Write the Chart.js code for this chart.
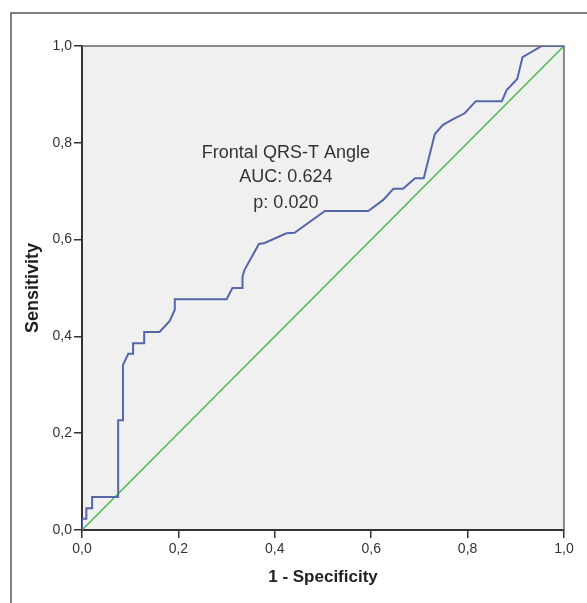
<!DOCTYPE html>
<html>
<head>
<meta charset="utf-8">
<script src="https://cdn.jsdelivr.net/npm/chart.js@4.4.1/dist/chart.umd.min.js"></script>
<style>
    html, body { margin: 0; padding: 0; background: #fff; }
    #rocChart { display: block; }
</style>
</head>
<body>
<canvas id="rocChart" width="587" height="603"></canvas>
<script>
// Curva ROC (1 - especificidad, sensibilidad)
const unoMenosEspecificidad = [0, 0, 0.009, 0.009, 0.021, 0.021, 0.075, 0.075, 0.085, 0.085, 0.096, 0.106, 0.106, 0.129, 0.129, 0.161, 0.182, 0.1925, 0.1925, 0.300, 0.312, 0.333, 0.333, 0.337, 0.367, 0.379, 0.424, 0.441, 0.504, 0.594, 0.625, 0.646, 0.666, 0.691, 0.709, 0.732, 0.749, 0.770, 0.794, 0.817, 0.871, 0.881, 0.903, 0.914, 0.954, 1.0];
const sensibilidad = [0, 0.023, 0.023, 0.045, 0.045, 0.068, 0.068, 0.227, 0.227, 0.341, 0.364, 0.364, 0.386, 0.386, 0.409, 0.409, 0.432, 0.455, 0.477, 0.477, 0.500, 0.500, 0.523, 0.537, 0.591, 0.593, 0.613, 0.614, 0.659, 0.659, 0.682, 0.705, 0.705, 0.727, 0.727, 0.818, 0.837, 0.849, 0.861, 0.886, 0.886, 0.909, 0.932, 0.977, 1.0, 1.0];

// Línea de referencia
const referenciaX = [0, 1];
const referenciaY = [0, 1];

// Marcas de los ejes
const marcasEje = [0, 0.2, 0.4, 0.6, 0.8, 1.0];

// Texto dentro del gráfico
const textoAnotacion = ['Frontal QRS-T Angle', 'AUC: 0.624', 'p: 0.020'];
const anotacionX = 0.423;
const anotacionY = [0.768, 0.718, 0.665];

function formatoComa(v) {
    return v.toFixed(1).replace('.', ',');
}

function aPuntos(xs, ys) {
    return xs.map((x, i) => ({ x: x, y: ys[i] }));
}

const fuente = 'Liberation Sans, Arial, sans-serif';

const fondoYMarco = {
    id: 'fondoYMarco',
    beforeDraw(chart) {
        const { ctx, chartArea: a } = chart;
        ctx.save();
        ctx.fillStyle = '#ffffff';
        ctx.fillRect(0, 0, chart.width, chart.height);
        // marco exterior (solo izquierda y arriba visibles)
        ctx.strokeStyle = '#555';
        ctx.lineWidth = 1.5;
        ctx.beginPath();
        ctx.moveTo(11, 603);
        ctx.lineTo(11, 13);
        ctx.lineTo(587, 13);
        ctx.stroke();
        // fondo del área de trazado
        ctx.fillStyle = '#f0f0f0';
        ctx.fillRect(a.left, a.top, a.right - a.left, a.bottom - a.top);
        ctx.restore();
    },
    beforeDatasetsDraw(chart) {
        const { ctx, chartArea: a } = chart;
        ctx.save();
        ctx.strokeStyle = '#666';
        ctx.lineWidth = 1.5;
        ctx.beginPath();
        ctx.moveTo(a.left, a.top);
        ctx.lineTo(a.right, a.top);
        ctx.lineTo(a.right, a.bottom);
        ctx.stroke();
        ctx.restore();
    },
    afterDatasetsDraw(chart) {
        const { ctx, scales } = chart;
        ctx.save();
        ctx.fillStyle = '#333';
        ctx.font = '18px ' + fuente;
        ctx.textAlign = 'center';
        ctx.textBaseline = 'alphabetic';
        const px = scales.x.getPixelForValue(anotacionX);
        textoAnotacion.forEach((t, i) => {
            ctx.fillText(t, px, scales.y.getPixelForValue(anotacionY[i]));
        });
        ctx.restore();
    }
};

const ctx = document.getElementById('rocChart').getContext('2d');
new Chart(ctx, {
    type: 'scatter',
    data: {
        datasets: [
            {
                label: 'Frontal QRS-T Angle',
                data: aPuntos(unoMenosEspecificidad, sensibilidad),
                showLine: true,
                borderColor: '#5566a9',
                borderWidth: 2,
                pointRadius: 0,
                tension: 0
            },
            {
                label: 'Referencia',
                data: aPuntos(referenciaX, referenciaY),
                showLine: true,
                borderColor: '#4cb84c',
                borderWidth: 1.5,
                pointRadius: 0
            }
        ]
    },
    options: {
        responsive: false,
        animation: false,
        layout: { padding: { left: 18, top: 46, right: 23, bottom: 15 } },
        plugins: {
            legend: { display: false },
            tooltip: { enabled: false }
        },
        scales: {
            x: {
                type: 'linear',
                min: 0,
                max: 1,
                afterBuildTicks: s => { s.ticks = marcasEje.map(v => ({ value: v })); },
                ticks: {
                    callback: v => formatoComa(v),
                    color: '#333',
                    font: { family: fuente, size: 14 },
                    padding: 3,
                    maxRotation: 0
                },
                grid: { drawOnChartArea: false, tickLength: 8, color: '#333', lineWidth: 1.5 },
                border: { color: '#333', width: 2 },
                title: {
                    display: true,
                    text: '1 - Specificity',
                    color: '#222',
                    font: { family: fuente, size: 17, weight: 'bold' },
                    padding: { top: 0, bottom: 0 }
                },
                afterFit: s => { s.height = 58; }
            },
            y: {
                type: 'linear',
                min: 0,
                max: 1,
                afterBuildTicks: s => { s.ticks = marcasEje.map(v => ({ value: v })); },
                ticks: {
                    callback: v => formatoComa(v),
                    color: '#333',
                    font: { family: fuente, size: 14 },
                    padding: 2
                },
                grid: { drawOnChartArea: false, tickLength: 8, color: '#333', lineWidth: 1.5 },
                border: { color: '#333', width: 2 },
                title: {
                    display: true,
                    text: 'Sensitivity',
                    color: '#222',
                    font: { family: fuente, size: 18, weight: 'bold' },
                    padding: { top: 4, bottom: 0 }
                },
                afterFit: s => { s.width = 64; }
            }
        }
    },
    plugins: [fondoYMarco]
});
</script>
</body>
</html>
